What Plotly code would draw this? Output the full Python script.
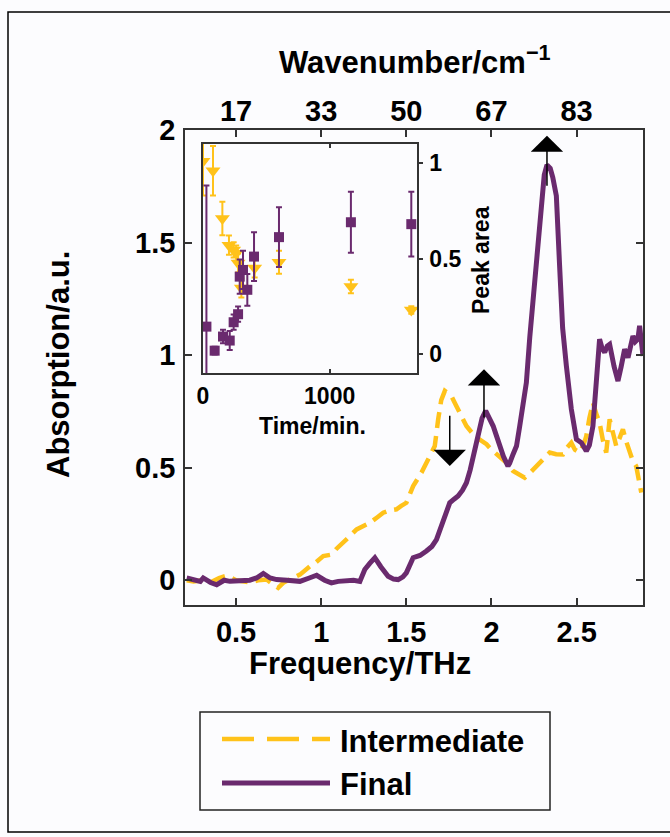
import plotly.graph_objects as go

# ---------------- data ----------------
freq_final = [0.21, 0.25, 0.29, 0.307, 0.35, 0.386, 0.43, 0.464, 0.52, 0.58, 0.62, 0.66, 0.70, 0.738,
              0.80, 0.875, 0.93, 0.973, 1.02, 1.06, 1.10, 1.149, 1.19, 1.227, 1.256, 1.285, 1.315, 1.35,
              1.393, 1.425, 1.452, 1.48, 1.50, 1.54, 1.58, 1.618, 1.65, 1.677, 1.716, 1.755, 1.78, 1.804,
              1.83, 1.853, 1.875, 1.892, 1.921, 1.945, 1.966, 1.99, 2.01, 2.03, 2.049, 2.07, 2.097, 2.107,
              2.127, 2.147, 2.165, 2.185, 2.205, 2.225, 2.244, 2.264, 2.28, 2.293, 2.31, 2.326, 2.345,
              2.36, 2.381, 2.40, 2.418, 2.44, 2.469, 2.499, 2.528, 2.557, 2.575, 2.596, 2.61, 2.626,
              2.635, 2.65, 2.665, 2.68, 2.694, 2.72, 2.743, 2.762, 2.782, 2.802, 2.815, 2.831, 2.845,
              2.86, 2.87, 2.88, 2.89]
abs_final = [0.01, 0.0, -0.005, 0.01, -0.01, -0.02, 0.0, -0.005, 0.0, 0.0, 0.01, 0.03, 0.01, 0.003,
             0.0, -0.005, 0.01, 0.022, 0.0, -0.012, -0.005, 0.0, 0.0, -0.005, 0.048, 0.075, 0.1, 0.06,
             0.018, 0.005, 0.003, 0.015, 0.033, 0.1, 0.11, 0.13, 0.15, 0.18, 0.255, 0.344, 0.36, 0.374,
             0.4, 0.433, 0.49, 0.552, 0.656, 0.72, 0.752, 0.72, 0.685, 0.64, 0.596, 0.55, 0.507, 0.52,
             0.56, 0.596, 0.68, 0.789, 0.878, 1.08, 1.249, 1.412, 1.56, 1.708, 1.80, 1.845, 1.83,
             1.79, 1.708, 1.40, 1.12, 0.952, 0.76, 0.626, 0.611, 0.574, 0.6, 0.685, 0.85, 1.026,
             1.071, 1.03, 1.012, 1.04, 1.048, 0.95, 0.885, 0.95, 1.026, 0.989, 1.03, 1.085, 1.06,
             1.071, 1.13, 1.08, 0.996]

freq_inter = [0.21, 0.25, 0.30, 0.347, 0.40, 0.445, 0.50, 0.54, 0.58, 0.63, 0.68, 0.72, 0.747, 0.78,
              0.816, 0.845, 0.875, 0.934, 0.97, 1.012, 1.06, 1.09, 1.12, 1.16, 1.208, 1.25, 1.286,
              1.33, 1.364, 1.40, 1.442, 1.47, 1.50, 1.54, 1.589, 1.638, 1.667, 1.687, 1.705, 1.726,
              1.765, 1.79, 1.814, 1.853, 1.902, 1.94, 1.971, 2.0, 2.029, 2.06, 2.088, 2.127, 2.16,
              2.195, 2.23, 2.264, 2.30, 2.342, 2.38, 2.42, 2.445, 2.469, 2.49, 2.518, 2.54, 2.557,
              2.575, 2.596, 2.615, 2.635, 2.655, 2.674, 2.694, 2.715, 2.733, 2.752, 2.772, 2.79,
              2.811, 2.83, 2.85, 2.865, 2.88]
abs_inter = [0.0, -0.005, 0.0, -0.01, 0.01, 0.02, 0.0, -0.005, -0.01, 0.0, 0.003, -0.02, -0.034, -0.01,
             0.003, 0.01, 0.025, 0.062, 0.08, 0.107, 0.114, 0.14, 0.159, 0.19, 0.226, 0.24, 0.255,
             0.28, 0.30, 0.31, 0.315, 0.33, 0.344, 0.418, 0.478, 0.552, 0.596, 0.715, 0.80, 0.841,
             0.818, 0.78, 0.745, 0.685, 0.64, 0.62, 0.604, 0.58, 0.559, 0.54, 0.522, 0.485, 0.47,
             0.455, 0.48, 0.507, 0.54, 0.567, 0.56, 0.559, 0.59, 0.611, 0.58, 0.567, 0.60, 0.64,
             0.72, 0.789, 0.74, 0.70, 0.62, 0.567, 0.715, 0.65, 0.596, 0.63, 0.67, 0.62,
             0.567, 0.53, 0.507, 0.45, 0.389]

# inset: peak area vs time
time_final = [27, 92, 158, 211, 242, 277, 290, 316, 350, 403, 600, 1168, 1645]
area_final = [0.143, 0.017, 0.091, 0.07, 0.166, 0.208, 0.405, 0.44, 0.336, 0.51, 0.612, 0.69, 0.68]
err_final = [0.74, 0.02, 0.035, 0.05, 0.04, 0.04, 0.09, 0.1, 0.083, 0.128, 0.157, 0.16, 0.17]

time_inter = [0, 79, 153, 205, 242, 262, 277, 303, 408, 600, 1168, 1645]
area_inter = [1.01, 0.96, 0.71, 0.57, 0.545, 0.528, 0.476, 0.345, 0.45, 0.48, 0.353, 0.23]
err_inter = [0.18, 0.13, 0.088, 0.05, 0.04, 0.04, 0.05, 0.05, 0.05, 0.06, 0.035, 0.02]

freq_ticks = [0.5, 1, 1.5, 2, 2.5]
freq_ticktext = ["0.5", "1", "1.5", "2", "2.5"]
wavenumber_ticktext = ["17", "33", "50", "67", "83"]
abs_ticks = [0, 0.5, 1, 1.5, 2]
abs_ticktext = ["0", "0.5", "1", "1.5", "2"]
time_ticks = [0, 1000]
area_ticks = [0, 0.5, 1]
area_ticktext = ["0", "0.5", "1"]

# arrows: (frequency, tail value, tip value)
arrow_freq = [1.755, 1.956, 2.326]
arrow_tail = [0.775, 0.678, 1.708]
arrow_tip = [0.508, 0.937, 1.975]

# ---------------- style ----------------
W, H = 670, 837
PURPLE = "#6a2a6e"
YELLOW = "#ffc21a"
FONT = "Liberation Sans, Arial, sans-serif"


def px_x(x):
    return x / W


def px_y(y):
    return (H - y) / H


main_l, main_r, main_t, main_b = 185, 643, 130, 605
ins_l, ins_r, ins_t, ins_b = 203, 417, 144, 373

fig = go.Figure()

fig.add_trace(go.Scatter(x=freq_inter, y=abs_inter, mode="lines", name="Intermediate",
                         line=dict(color=YELLOW, width=4.5, dash="16px,8px"),
                         xaxis="x", yaxis="y", showlegend=False))
fig.add_trace(go.Scatter(x=freq_final, y=abs_final, mode="lines", name="Final",
                         line=dict(color=PURPLE, width=5),
                         xaxis="x", yaxis="y", showlegend=False))

fig.add_trace(go.Scatter(x=time_inter, y=area_inter, mode="markers", name="Intermediate",
                         marker=dict(symbol="triangle-down", size=13, color=YELLOW),
                         error_y=dict(type="data", array=err_inter, color=YELLOW, thickness=2, width=3),
                         xaxis="x2", yaxis="y2", showlegend=False))
fig.add_trace(go.Scatter(x=time_final, y=area_final, mode="markers", name="Final",
                         marker=dict(symbol="square", size=10, color=PURPLE),
                         error_y=dict(type="data", array=err_final, color=PURPLE, thickness=2, width=3),
                         xaxis="x2", yaxis="y2", showlegend=False))

tickfont_main = dict(family=FONT, size=29, color="black", weight="bold")
tickfont_ins = dict(family=FONT, size=23, color="black", weight="bold")

fig.update_layout(
    width=W, height=H,
    margin=dict(l=0, r=0, t=0, b=0, autoexpand=False),
    paper_bgcolor="#fcfcfe", plot_bgcolor="rgba(0,0,0,0)",
    showlegend=False,
    xaxis=dict(domain=[px_x(main_l), px_x(main_r)], range=[0.2, 2.89], anchor="y", automargin=False,
               tickvals=freq_ticks, ticktext=freq_ticktext, ticks="inside", ticklen=7,
               tickcolor="#333", tickwidth=1.5, showline=True, linecolor="#333", linewidth=1.5,
               mirror=True, showgrid=False, zeroline=False, tickfont=tickfont_main,
               ticklabelstandoff=0),
    xaxis3=dict(overlaying="x", side="top", anchor="y", range=[0.2, 2.89], automargin=False,
                tickvals=freq_ticks, ticktext=wavenumber_ticktext, ticks="inside", ticklen=7,
                tickcolor="#333", tickwidth=1.5, showline=False, showgrid=False, zeroline=False,
                tickfont=tickfont_main, ticklabelstandoff=2),
    yaxis=dict(domain=[px_y(main_b), px_y(main_t)], range=[-0.11, 2.0], anchor="x", automargin=False,
               tickvals=abs_ticks, ticktext=abs_ticktext, ticks="inside", ticklen=7,
               tickcolor="#333", tickwidth=1.5, showline=True, linecolor="#333", linewidth=1.5,
               mirror="ticks", showgrid=False, zeroline=False, tickfont=tickfont_main,
               ticklabelstandoff=2),
    xaxis2=dict(domain=[px_x(ins_l), px_x(ins_r)], range=[0, 1690], anchor="y2", automargin=False,
                tickvals=time_ticks, ticks="inside", ticklen=4, tickcolor="#333", tickwidth=1.5,
                showline=True, linecolor="#333", linewidth=1.5, mirror="ticks",
                showgrid=False, zeroline=False, tickfont=tickfont_ins, ticklabelstandoff=2),
    yaxis2=dict(domain=[px_y(ins_b), px_y(ins_t)], range=[-0.1, 1.1], anchor="x2", side="right",
                automargin=False,
                tickvals=area_ticks, ticktext=area_ticktext, ticks="outside", ticklen=4,
                tickcolor="#333", tickwidth=1.5, showline=True, linecolor="#333", linewidth=1.5,
                mirror=True, showgrid=False, zeroline=False, tickfont=tickfont_ins,
                ticklabelstandoff=2),
)

# invisible point so the top (wavenumber) axis is drawn
fig.add_trace(go.Scatter(x=[freq_ticks[0]], y=[abs_ticks[0]], mode="markers", xaxis="x3", yaxis="y",
                         marker=dict(opacity=0), hoverinfo="skip", showlegend=False))

annotations = []
title_font = dict(family=FONT, size=31, color="black", weight="bold")
ins_title_font = dict(family=FONT, size=23, color="black", weight="bold")
annotations.append(dict(text="Frequency/THz", x=px_x(360), y=px_y(663), xref="paper", yref="paper",
                        showarrow=False, font=title_font, xanchor="center", yanchor="middle"))
annotations.append(dict(text="Wavenumber/cm<sup>−1</sup>", x=px_x(415), y=px_y(60), xref="paper",
                        yref="paper", showarrow=False, font=title_font, xanchor="center",
                        yanchor="middle"))
annotations.append(dict(text="Absorption/a.u.", x=px_x(58), y=px_y(365), xref="paper", yref="paper",
                        showarrow=False, font=title_font, textangle=-90, xanchor="center",
                        yanchor="middle"))
annotations.append(dict(text="Time/min.", x=px_x(312), y=px_y(426), xref="paper", yref="paper",
                        showarrow=False, font=ins_title_font, xanchor="center", yanchor="middle"))
annotations.append(dict(text="Peak area", x=px_x(481), y=px_y(260), xref="paper", yref="paper",
                        showarrow=False, font=ins_title_font, textangle=-90, xanchor="center",
                        yanchor="middle"))

for f, t0, t1 in zip(arrow_freq, arrow_tail, arrow_tip):
    annotations.append(dict(x=f, y=t1, ax=f, ay=t0, xref="x", yref="y", axref="x", ayref="y",
                            text=" ", showarrow=True, arrowhead=1, arrowsize=3.6, arrowwidth=1.5,
                            arrowcolor="black"))

# legend (manual)
leg_font = dict(family=FONT, size=31, color="black", weight="bold")
annotations.append(dict(text="Intermediate", x=px_x(338), y=px_y(741), xref="paper", yref="paper",
                        showarrow=False, font=leg_font, xanchor="left", yanchor="middle"))
annotations.append(dict(text="Final", x=px_x(338), y=px_y(784), xref="paper", yref="paper",
                        showarrow=False, font=leg_font, xanchor="left", yanchor="middle"))

shapes = [
    dict(type="rect", xref="paper", yref="paper", x0=px_x(8), x1=px_x(690), y0=px_y(832),
         y1=px_y(12), line=dict(color="black", width=1.5)),
    dict(type="rect", xref="paper", yref="paper", x0=px_x(200), x1=px_x(550), y0=px_y(810),
         y1=px_y(712), line=dict(color="#222", width=1.5), fillcolor="rgba(0,0,0,0)"),
    dict(type="line", xref="paper", yref="paper", x0=px_x(222), x1=px_x(330), y0=px_y(739),
         y1=px_y(739), line=dict(color=YELLOW, width=4.5, dash="32px,13px")),
    dict(type="line", xref="paper", yref="paper", x0=px_x(222), x1=px_x(330), y0=px_y(783),
         y1=px_y(783), line=dict(color=PURPLE, width=5)),
]

fig.update_layout(annotations=annotations, shapes=shapes)
fig.write_html("out.html")
